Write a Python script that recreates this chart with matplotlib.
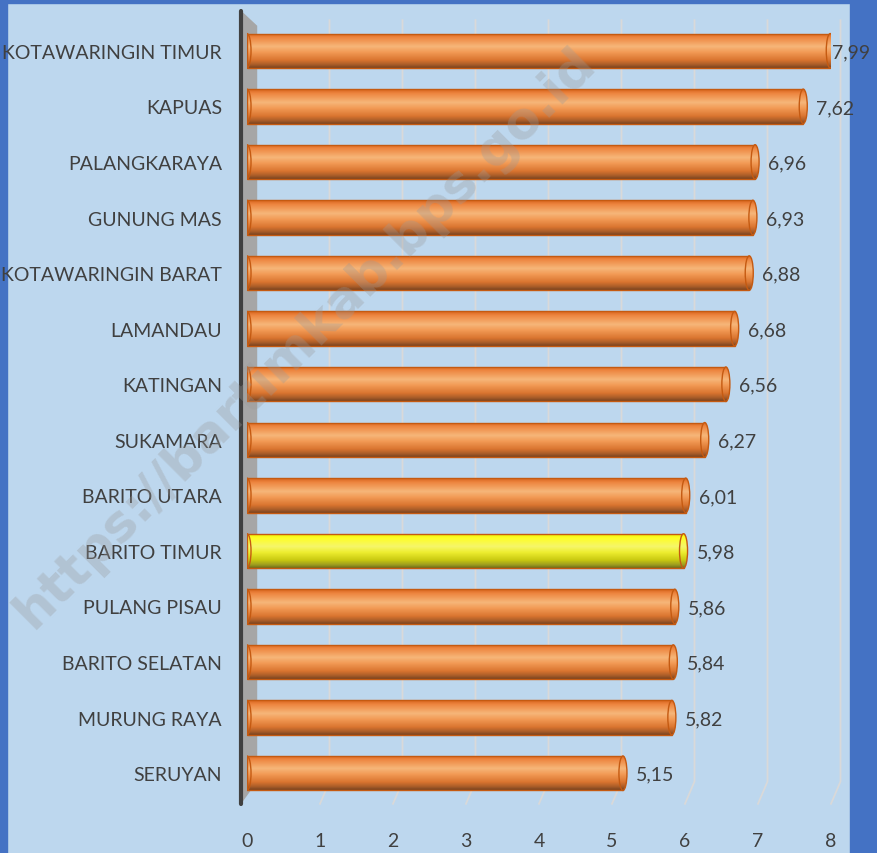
import numpy as np
import matplotlib.pyplot as plt
from matplotlib.patches import Rectangle, Ellipse, Polygon
from matplotlib.colors import to_rgb

regions = ["KOTAWARINGIN TIMUR", "KAPUAS", "PALANGKARAYA", "GUNUNG MAS",
           "KOTAWARINGIN BARAT", "LAMANDAU", "KATINGAN", "SUKAMARA",
           "BARITO UTARA", "BARITO TIMUR", "PULANG PISAU", "BARITO SELATAN",
           "MURUNG RAYA", "SERUYAN"]
values = [7.99, 7.62, 6.96, 6.93, 6.88, 6.68, 6.56, 6.27, 6.01, 5.98, 5.86, 5.84, 5.82, 5.15]
highlight = "BARITO TIMUR"
x_ticks = [0, 1, 2, 3, 4, 5, 6, 7, 8]

BG = "#BDD7EE"
TXT = "#404040"
FONT = "Lato"


def gradient(stops):
    # stops: list of (position, color) top -> bottom
    pos = np.linspace(0, 1, 64)
    cols = np.array([to_rgb(c) for _, c in stops])
    p = [s for s, _ in stops]
    g = np.stack([np.interp(pos, p, cols[:, k]) for k in range(3)], axis=1)
    return g[:, None, :]


orange = gradient([(0, "#D8651E"), (0.12, "#EE8640"), (0.38, "#F6B679"),
                   (0.55, "#F29A55"), (0.78, "#D9742F"), (0.92, "#A45A28"), (1, "#7A4420")])
yellow = gradient([(0, "#E6E600"), (0.12, "#FFFF20"), (0.38, "#F6F66A"),
                   (0.55, "#EEEE30"), (0.78, "#C8C810"), (0.92, "#9A9A20"), (1, "#707018")])

fig = plt.figure(figsize=(8.77, 8.54), dpi=100, facecolor=BG)
# blue frame (drawn below the axes so value labels can overlap it)
for r in [(0, 0, 7 / 877, 1), (850 / 877, 0, 27 / 877, 1), (0, 1 - 4 / 854, 1, 4 / 854)]:
    fig.patches.append(Rectangle(r[:2], r[2], r[3], transform=fig.transFigure,
                                 color="#4472C4", zorder=-1))

ax = fig.add_axes([247 / 877, 52 / 854, 584 / 877, 778 / 854])
ax.set_facecolor("none")
for s in ax.spines.values():
    s.set_visible(False)

n = len(regions)
ys = np.arange(n)
h = 0.62
cap = 0.11

# back gridlines with a bent floor segment
for t in x_ticks[1:]:
    ax.plot([t + 0.13, t + 0.13, t], [-0.55, n - 0.85, n - 0.45], color="#D9D9D9", lw=1.3,
            zorder=1, clip_on=False)

# left wall
wall = Polygon([(-0.08, -0.72), (0.14, -0.45), (0.14, n - 0.85), (-0.08, n - 0.45)],
               closed=True, facecolor="#A6A6A6", edgecolor="none", zorder=2, clip_on=False)
ax.add_patch(wall)
ax.plot([-0.08, -0.08], [-0.72, n - 0.45], color="#404040", lw=3, zorder=3,
        solid_capstyle="round", clip_on=False)

for y, v, name in zip(ys, values, regions):
    grad = yellow if name == highlight else orange
    edge = "#C55A11"
    im = ax.imshow(grad, extent=(0, v, y + h / 2, y - h / 2), aspect="auto",
                   interpolation="bilinear", zorder=4)
    im.set_clip_path(Rectangle((0, y - h / 2), v, h, transform=ax.transData))
    ax.add_patch(Rectangle((0, y - h / 2), v, h, fill=False, edgecolor=edge, lw=1.0, zorder=5))
    # rounded left end
    im2 = ax.imshow(grad, extent=(-cap / 2, 0, y + h / 2, y - h / 2), aspect="auto",
                    interpolation="bilinear", zorder=4)
    im2.set_clip_path(Ellipse((0, y), cap, h, transform=ax.transData))
    ax.add_patch(Ellipse((0, y), cap, h, facecolor="none", edgecolor=edge, lw=1.0, zorder=5))
    # end cap
    im3 = ax.imshow(grad, extent=(v - cap / 2, v + cap / 2, y + h / 2, y - h / 2), aspect="auto",
                    interpolation="bilinear", zorder=6)
    im3.set_clip_path(Ellipse((v, y), cap, h, transform=ax.transData))
    ax.add_patch(Ellipse((v, y), cap, h, facecolor="none", edgecolor=edge, lw=1.0, zorder=7))
    ax.text(min(v + 0.18, 8.02), y + 0.02, f"{v:.2f}".replace(".", ","), va="center", ha="left",
            fontsize=14, color=TXT, family=FONT, zorder=8)

ax.set_xlim(0, 8)
ax.set_ylim(n - 0.5, -0.5)
ax.set_yticks(ys)
ax.set_yticklabels(regions, fontsize=14, color=TXT, family=FONT)
ax.set_xticks(x_ticks)
ax.set_xticklabels([str(t) for t in x_ticks], fontsize=14, color=TXT, family=FONT)
ax.tick_params(axis="y", length=0, pad=18)
ax.tick_params(axis="x", length=0, pad=22)

fig.text(305 / 877, 1 - 338 / 854, "https://bartimkab.bps.go.id", rotation=45,
         ha="center", va="center", fontsize=37, fontweight="bold", color="#9A9A9A",
         alpha=0.32, family="DejaVu Sans", zorder=20)

fig.savefig("out.png", dpi=100, facecolor=BG)
